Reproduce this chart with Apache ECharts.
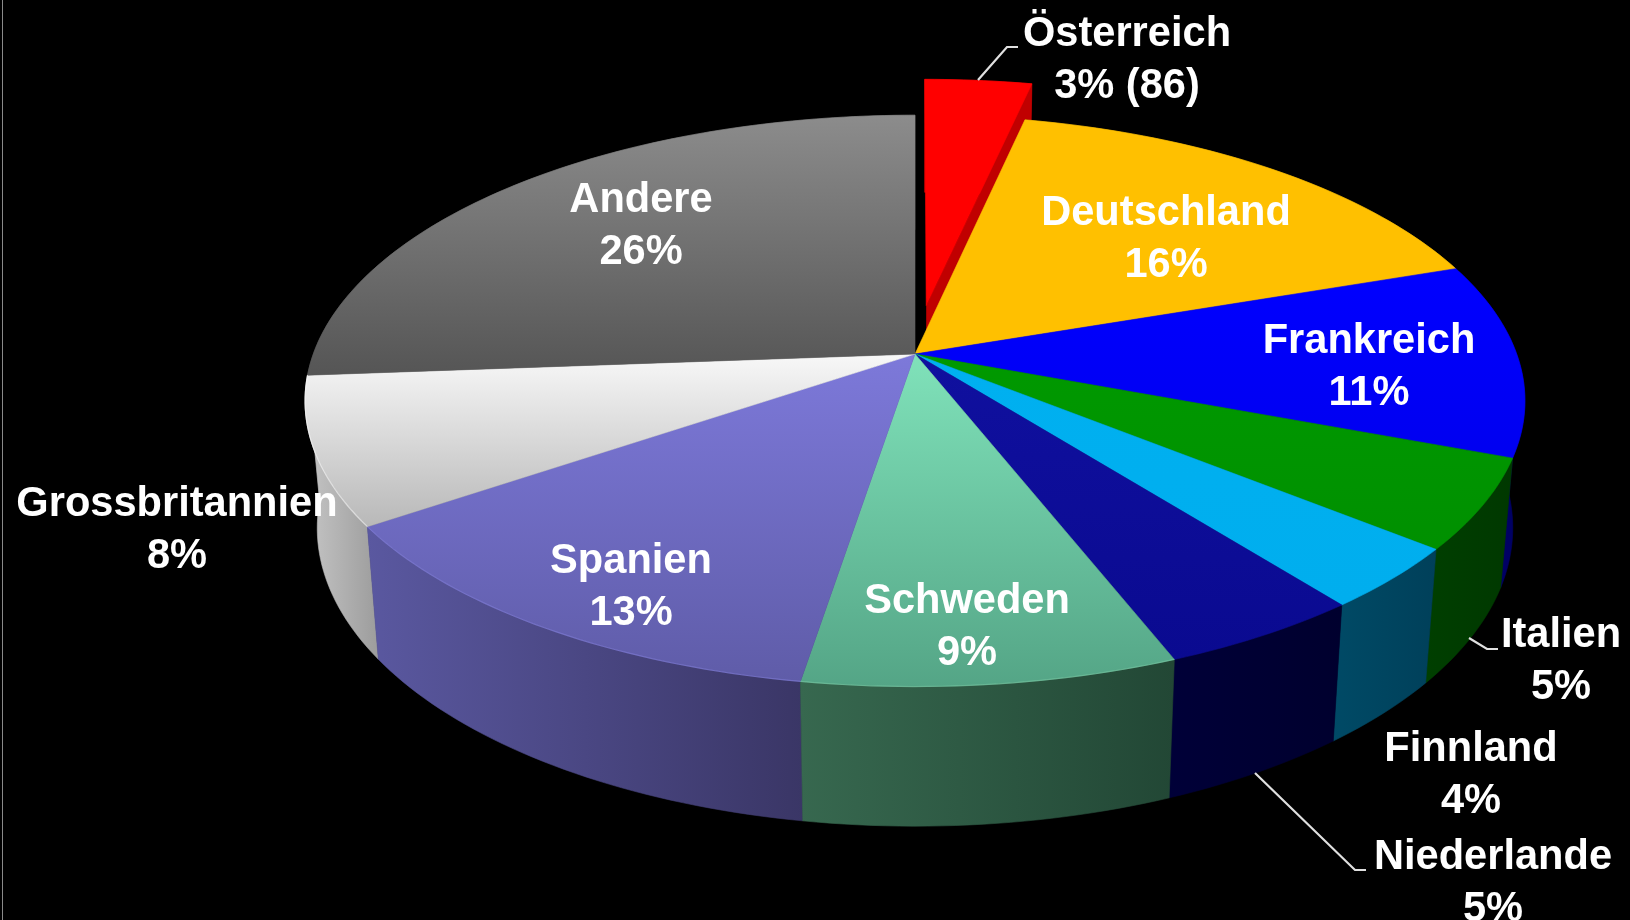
<!DOCTYPE html>
<html>
<head>
<meta charset="utf-8">
<title>Anteile nach Ländern</title>
<script src="https://cdn.jsdelivr.net/npm/echarts@6/dist/echarts.min.js"></script>
<style>
  html, body { margin: 0; padding: 0; background: #000; }
  #chart-container { width: 1630px; height: 920px; }
</style>
</head>
<body>
<div id="chart-container"></div>
<script>
// values (clockwise from 12 o'clock)
const countries = ['Österreich', 'Deutschland', 'Frankreich', 'Italien', 'Finnland', 'Niederlande', 'Schweden', 'Spanien', 'Grossbritannien', 'Andere'];
const shares = [3.4, 16.36, 10.98, 5.11, 3.55, 4.65, 8.5, 12.92, 8.33, 26.2];
const percentLabels = ['3% (86)', '16%', '11%', '5%', '4%', '5%', '9%', '13%', '8%', '26%'];
const explode = [0.18, 0, 0, 0, 0, 0, 0, 0, 0, 0];

// colours: top surface [from, to], wall [left, right], rim highlight
const topColors = [
  ['#ff0000', '#ff0000'], ['#ffc000', '#ffc000'], ['#0000ff', '#0000f0'], ['#009900', '#009000'], ['#00b0f0', '#00aeee'],
  ['#10109f', '#0a0a90'], ['#80e2ba', '#54a586'], ['#7d79da', '#5f5ca8'], ['#f8f8f8', '#b8b8b8'], ['#8c8c8c', '#555555']
];
const wallColors = [
  ['#c00000', '#c00000'], ['#7f6000', '#7f6000'], ['#000070', '#000060'], ['#003f00', '#003800'], ['#004a66', '#00405a'],
  ['#000038', '#00002e'], ['#37684f', '#224735'], ['#5a58a0', '#3a3666'], ['#c6c6c6', '#9c9c9c'], ['#444444', '#333333']
];
const rimColors = [null, null, null, null, null, null, '#7fcfaa', '#8684e0', '#ffffff', null];

// layout of the texts, pixels
const labelPos = [[1127, 61], [1166, 240], [1369, 368], [1561, 662], [1471, 776], [1493, 884], [967, 628], [631, 588], [177, 531], [641, 227]];
const leaderLines = [
  [[978, 80], [1007, 47], [1018, 47]],
  [[1469, 638], [1487, 649], [1498, 649]],
  [[1255, 773], [1355, 870], [1366, 870]]
];

// tilted pie: unit circle -> screen with perspective
const apexX = 915, apexY = 354;
const scaleX = 601.7, scaleY = 278, persp = 0.164;
// bottom face, relative to the top one
const baseScaleX = 0.98, baseScaleY = 1.044, baseDrop = 125;

const total = shares.reduce((a, b) => a + b, 0);

function project(u, v, isBase) {
  const d = 1 - persp * v;
  let x = scaleX * u / d;
  let y = scaleY * v / d;
  if (isBase) {
    x = x * baseScaleX;
    y = y * baseScaleY + baseDrop;
  }
  return [apexX + x, apexY + y];
}

function sliceAngles(index) {
  let start = 0;
  for (let i = 0; i < index; i++) start += shares[i];
  return [start / total * Math.PI * 2, (start + shares[index]) / total * Math.PI * 2];
}

function rimPoints(a0, a1, ou, ov, isBase) {
  const steps = Math.max(2, Math.ceil((a1 - a0) / 0.02));
  const pts = [];
  for (let i = 0; i <= steps; i++) {
    const a = a0 + (a1 - a0) * i / steps;
    pts.push(project(Math.sin(a) + ou, -Math.cos(a) + ov, isBase));
  }
  return pts;
}

function grad(x2, y2, pair) {
  return new echarts.graphic.LinearGradient(0, 0, x2, y2, [
    { offset: 0, color: pair[0] },
    { offset: 1, color: pair[1] }
  ]);
}

function renderSlice(params) {
  const i = params.dataIndex;
  const [a0, a1] = sliceAngles(i);
  const mid = (a0 + a1) / 2;
  const ou = explode[i] * Math.sin(mid);
  const ov = -explode[i] * Math.cos(mid);
  const topRim = rimPoints(a0, a1, ou, ov, false);
  const baseRim = rimPoints(a0, a1, ou, ov, true);
  const apexTop = project(ou, ov, false);
  const children = [];
  const layer = explode[i] ? 0 : 10;

  // outer wall, the ones further back go first
  const wallFill = grad(1, 0, wallColors[i]);
  children.push({
    type: 'polygon',
    z2: layer + 1 - Math.cos(mid),
    shape: { points: topRim.concat(baseRim.slice().reverse()) },
    style: { fill: wallFill, stroke: wallFill, lineWidth: 0.6 }
  });

  // cut face of the pulled out slice
  if (explode[i]) {
    children.push({
      type: 'polygon',
      z2: layer + 3,
      shape: { points: [apexTop, topRim[topRim.length - 1], baseRim[baseRim.length - 1], project(ou, ov, true)] },
      style: { fill: wallColors[i][0] }
    });
  }

  // top surface
  const topFill = grad(0, 1, topColors[i]);
  children.push({
    type: 'polygon',
    z2: layer + 4,
    shape: { points: [apexTop].concat(topRim) },
    style: { fill: topFill, stroke: topFill, lineWidth: 0.6 }
  });

  if (rimColors[i]) {
    children.push({
      type: 'polyline',
      z2: layer + 5,
      shape: { points: topRim },
      style: { fill: null, stroke: rimColors[i], lineWidth: 1.2, opacity: 0.55 }
    });
  }

  children.push({
    type: 'text',
    z2: 30,
    style: {
      x: labelPos[i][0],
      y: labelPos[i][1],
      text: countries[i] + '\n' + percentLabels[i],
      fill: '#fff',
      font: 'bold 41.6px "Liberation Sans", Arial, sans-serif',
      lineHeight: 52,
      align: 'center',
      verticalAlign: 'middle'
    }
  });

  return { type: 'group', children: children };
}

function renderLeader(params) {
  return {
    type: 'polyline',
    z2: 25,
    shape: { points: leaderLines[params.dataIndex] },
    style: { fill: null, stroke: '#e0e0e0', lineWidth: 2.2 }
  };
}

var dom = document.getElementById('chart-container');
var myChart = echarts.init(dom, null, { renderer: 'canvas' });

var option = {
  animation: false,
  backgroundColor: '#000',
  graphic: [{
    type: 'rect',
    shape: { x: 2, y: 0, width: 1, height: 920 },
    style: { fill: '#8a8a8a' }
  }],
  series: [
    {
      type: 'custom',
      coordinateSystem: 'none',
      silent: true,
      data: shares,
      renderItem: renderSlice
    },
    {
      type: 'custom',
      coordinateSystem: 'none',
      silent: true,
      data: leaderLines.map((_, i) => i),
      renderItem: renderLeader
    }
  ]
};

myChart.setOption(option);
</script>
</body>
</html>
